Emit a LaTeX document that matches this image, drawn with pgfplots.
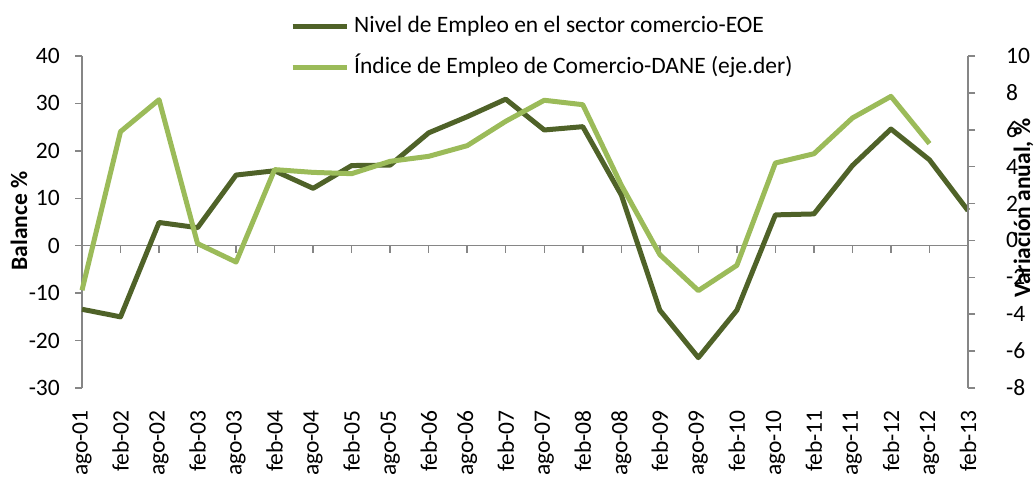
\documentclass[border=0pt]{standalone}
\usepackage{pgfplots}
\pgfplotsset{compat=1.18}
\usepackage{fontspec}
\setmainfont{Carlito}
\definecolor{darkg}{HTML}{4F6228}
\definecolor{lightg}{HTML}{9BBB59}
\definecolor{axgray}{HTML}{868686}
\begin{document}
\begin{tikzpicture}
\useasboundingbox (0,0) rectangle (1035bp,480bp);
\pgfplotsset{
  base/.style={
    scale only axis, width=886bp, height=332bp,
    at={(82bp,92bp)}, anchor=south west,
    xmin=0, xmax=23, clip=false,
    font=\fontsize{23.5bp}{28bp}\selectfont,
    /pgf/number format/assume math mode=true,
    tick align=outside, major tick length=7bp,
    every tick/.style={draw=axgray, line width=1.5bp},
    axis line style={draw=axgray, line width=1.5bp},
  }
}
\begin{axis}[base,
  ymin=-30, ymax=40, ytick={-30,-20,...,40},
  axis y line*=left, axis x line*=bottom,
  x axis line style={draw=none},
  xtick={0,...,23},
  xtick style={draw=none},
  xticklabels={ago-01,feb-02,ago-02,feb-03,ago-03,feb-04,ago-04,feb-05,ago-05,feb-06,ago-06,feb-07,ago-07,feb-08,ago-08,feb-09,ago-09,feb-10,ago-10,feb-11,ago-11,feb-12,ago-12,feb-13},
  xticklabel style={rotate=90, anchor=east, inner sep=0pt},
  xticklabel shift=15bp,
  yticklabel style={inner sep=0pt},
  yticklabel shift=15bp,
]
\draw[axgray, line width=1.5bp] (axis cs:0,0) -- (axis cs:23,0);
\pgfplotsinvokeforeach{0,...,23}{\draw[axgray, line width=1.5bp] (axis cs:#1,0) -- ++(0pt,-7bp);}
\addplot[darkg, line width=5bp, line join=round] coordinates {
(0,-13.4) (1,-15.0) (2,4.9) (3,3.8) (4,14.9) (5,15.8) (6,12.1) (7,16.9)
(8,17.0) (9,23.8) (10,27.2) (11,30.9) (12,24.4) (13,25.1) (14,10.7) (15,-13.6)
(16,-23.6) (17,-13.6) (18,6.5) (19,6.7) (20,16.9) (21,24.6) (22,18.1) (23,7.4)
};
\end{axis}
\begin{axis}[base,
  ymin=-8, ymax=10, ytick={-8,-6,...,10},
  axis y line*=right, axis x line=none,
  yticklabel style={inner sep=0pt},
  yticklabel shift=31bp,
  legend style={draw=none, fill=none, inner sep=0pt, outer sep=0pt,
    at={(0.235,1.122)}, anchor=north west,
    font=\fontsize{23.5bp}{28bp}\selectfont,
    row sep=19bp, column sep=5bp,
    nodes={inner sep=0pt, text height=17bp, text depth=5bp}},
  legend cell align=left,
  legend image code/.code={\draw[#1] (0bp,0bp) -- (54bp,0bp);},
]
\addlegendimage{darkg, line width=5bp}
\addlegendentry{Nivel de Empleo en el sector comercio-EOE}
\addplot[lightg, line width=5bp, line join=round] coordinates {
(0,-2.7) (1,5.9) (2,7.63) (3,-0.17) (4,-1.17) (5,3.84) (6,3.69) (7,3.62)
(8,4.29) (9,4.56) (10,5.14) (11,6.46) (12,7.6) (13,7.36) (14,3.0) (15,-0.77)
(16,-2.72) (17,-1.35) (18,4.2) (19,4.7) (20,6.64) (21,7.81) (22,5.25)
};
\addlegendentry{Índice de Empleo de Comercio-DANE (eje.der)}
\end{axis}
\node[rotate=90, font=\fontsize{23.5bp}{28bp}\selectfont\bfseries] at (19bp,259bp) {Balance \%};
\node[rotate=90, anchor=base, inner sep=0pt, font=\fontsize{23.5bp}{28bp}\selectfont\bfseries] at (1030bp,272bp) {Variación anual, \%};
\end{tikzpicture}
\end{document}
